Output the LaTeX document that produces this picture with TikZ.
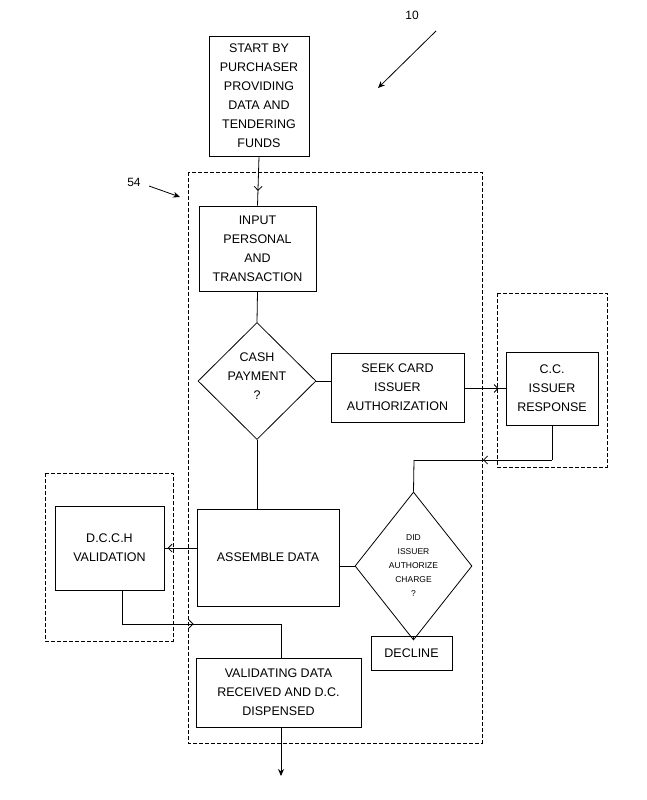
\documentclass[tikz,border=0pt]{standalone}
\usepackage{fontspec}
\setmainfont{Liberation Sans}
\usetikzlibrary{shapes.geometric,arrows.meta,decorations.markings}
\begin{document}
\begin{tikzpicture}[x=1pt,y=-1pt,
  box/.style={draw,thick,rectangle,align=center,inner sep=0pt,font=\fontsize{12.5}{19}\selectfont},
  dia/.style={draw,thick,diamond,align=center,inner sep=0pt},
  grp/.style={draw,thick,dashed,dash pattern=on 4pt off 2pt},
  ln/.style={thick},
  arr/.style={thick,-{Stealth[length=7pt,width=6pt]}},
  marr/.style={thick,postaction={decorate},decoration={markings,mark=at position #1 with {\arrow{Straight Barb[length=4pt,width=8pt]}}}}]
\useasboundingbox (0,0) rectangle (647,800);
\draw[grp] (188,172) rectangle (482,743);
\draw[grp] (497,293) rectangle (607,467);
\draw[grp] (45,473) rectangle (173,641);
\node[box,minimum width=100,minimum height=120] (start) at (259,96) {START BY\\PURCHASER\\PROVIDING\\DATA AND\\TENDERING\\FUNDS};
\node[box,minimum width=117,minimum height=85] (input) at (257.5,248.5) {INPUT\\PERSONAL\\AND\\TRANSACTION};
\node[dia,minimum width=118,minimum height=117] (cash) at (257,381) {};
\node[align=center,font=\fontsize{12.5}{19}\selectfont] (cashT) at (257,376) {CASH\\PAYMENT\\?};
\node[box,minimum width=133,minimum height=69] (seek) at (397.5,387.5) {SEEK CARD\\ISSUER\\AUTHORIZATION};
\node[box,minimum width=92,minimum height=73] (cc) at (552,388.5) {C.C.\\ISSUER\\RESPONSE};
\node[dia,minimum width=117,minimum height=148] (did) at (413.5,566) {};
\node[align=center,font=\fontsize{8.5}{14}\selectfont] (didT) at (413.5,566) {DID\\ISSUER\\AUTHORIZE\\CHARGE\\?};
\node[box,minimum width=142,minimum height=97] (asm) at (268,557.5) {ASSEMBLE DATA};
\node[box,minimum width=81,minimum height=34] (dec) at (411.5,653) {DECLINE};
\node[box,minimum width=109,minimum height=84] (dcch) at (109.5,548) {D.C.C.H\\VALIDATION};
\node[box,minimum width=165,minimum height=69] (val) at (278.5,692.5) {VALIDATING DATA\\RECEIVED AND D.C.\\DISPENSED};
\node[font=\fontsize{12}{13}\selectfont] (n10) at (412,15) {10};
\node[font=\fontsize{12}{13}\selectfont] (n54) at (134,182) {54};
\coordinate (a10) at (436,31);
\coordinate (b10) at (378,88);
\coordinate (a54) at (149,186);
\coordinate (b54) at (180,197);
\coordinate (endp) at (281,776);
\coordinate (c1) at (552,460);
\coordinate (c2) at (414,460);
\coordinate (d1) at (122,624);
\coordinate (d2) at (281,624);
\draw[arr] (a10) -- (b10);
\draw[arr] (a54) -- (b54);
\draw[marr=0.7] (start.south) -- (input.north);
\draw[ln] (input.south) -- (cash.north);
\draw[ln] (cash.east) -- (seek.west |- cash.east);
\draw[marr=0.83] (seek.east |- cc.west) -- (cc.west);
\draw[ln] (cash.south) -- (asm.north -| cash.south);
\draw[ln] (cc.south -| c1) -- (c1);
\draw[marr=0.5] (c1) -- (c2);
\draw[ln] (c2) -- (did.north);
\draw[ln] (did.west) -- (asm.east |- did.west);
\draw[ln] (did.south) -- (dec.north -| did.south);
\draw[marr=0.9] (asm.west |- dcch.east) -- (dcch.east);
\draw[ln] (dcch.south -| d1) -- (d1);
\draw[marr=0.45] (d1) -- (d2);
\draw[ln] (d2) -- (val.north -| d2);
\draw[arr] (val.south -| endp) -- (endp);
\end{tikzpicture}
\end{document}
